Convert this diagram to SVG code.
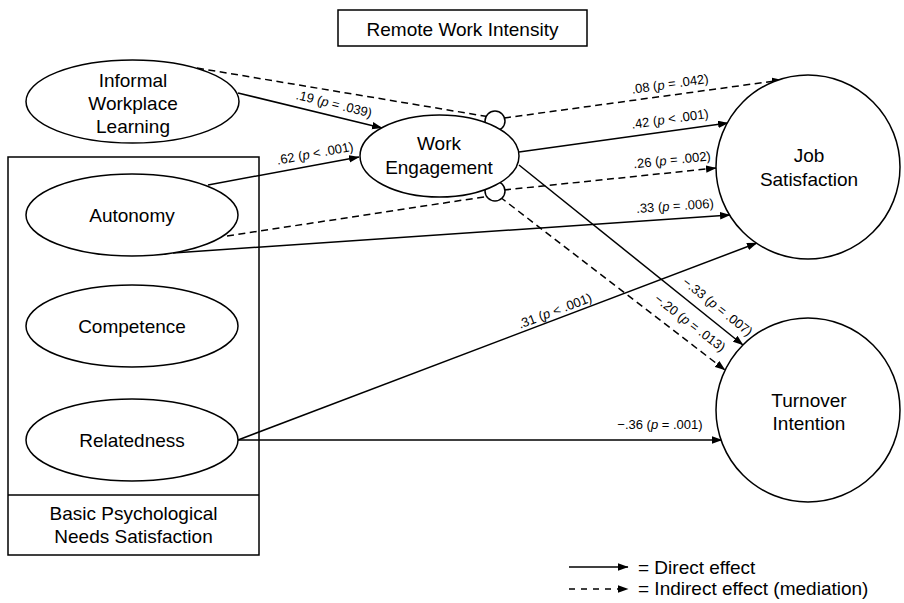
<svg xmlns="http://www.w3.org/2000/svg" width="904" height="603" viewBox="0 0 904 603">
<defs>
<marker id="arr" markerUnits="userSpaceOnUse" markerWidth="11" markerHeight="8" refX="10" refY="3.75" orient="auto">
<path d="M0,0 L10.5,3.75 L0,7.5 z" fill="#000"/>
</marker>
<style>
.n{font-family:"Liberation Sans",Arial,sans-serif;font-size:19px;fill:#000;text-anchor:middle}
.l{font-family:"Liberation Sans",Arial,sans-serif;font-size:13px;fill:#000;text-anchor:middle}
.lg{font-family:"Liberation Sans",Arial,sans-serif;font-size:19px;fill:#000}
.shape{fill:#fff;stroke:#000;stroke-width:1.5}
.frame{fill:none;stroke:#000;stroke-width:1.5}
.d{fill:none;stroke:#000;stroke-width:1.5;marker-end:url(#arr)}
.i{fill:none;stroke:#000;stroke-width:1.5;stroke-dasharray:7 4.5}
.ia{fill:none;stroke:#000;stroke-width:1.5;stroke-dasharray:7 4.5;marker-end:url(#arr)}
</style>
</defs>
<rect width="904" height="603" fill="#fff"/>

<g id="remote-work-intensity">
<rect class="frame" x="338" y="10" width="249" height="36"/>
<text class="n" x="462.5" y="36">Remote Work Intensity</text>
</g>

<g id="bpns-box">
<rect class="frame" x="8" y="157" width="251" height="398"/>
<line x1="8" y1="495" x2="259" y2="495" stroke="#000" stroke-width="1.5"/>
<text class="n" x="133.5" y="520">Basic Psychological</text>
<text class="n" x="133.5" y="543">Needs Satisfaction</text>
</g>

<g id="connectors">
<line class="i" x1="197" y1="68" x2="490" y2="117"/>
<line class="ia" x1="504" y1="118" x2="782" y2="80"/>
<line class="i" x1="227" y1="236" x2="490" y2="196"/>
<line class="ia" x1="504" y1="190" x2="716" y2="168"/>
<line class="ia" x1="500" y1="197" x2="725" y2="370"/>
<line class="d" x1="238" y1="93" x2="382" y2="128"/>
<line class="d" x1="208" y1="185" x2="359" y2="157"/>
<line class="d" x1="519" y1="152" x2="728" y2="123"/>
<line class="d" x1="173" y1="253" x2="730" y2="215"/>
<line class="d" x1="519" y1="165" x2="743" y2="345"/>
<line class="d" x1="238" y1="440" x2="757" y2="243"/>
<line class="d" x1="238" y1="440" x2="722" y2="440"/>
<circle class="shape" cx="495" cy="121" r="10"/>
<circle class="shape" cx="495" cy="191" r="10"/>
<text class="l" transform="translate(333,108.2) rotate(13.7)">.19 (<tspan font-style="italic">p</tspan> = .039)</text>
<text class="l" transform="translate(315.8,157.7) rotate(-10.5)">.62 (<tspan font-style="italic">p</tspan> &lt; .001)</text>
<text class="l" transform="translate(670.6,88.3) rotate(-8.2)">.08 (<tspan font-style="italic">p</tspan> = .042)</text>
<text class="l" transform="translate(670.6,123.3) rotate(-7.9)">.42 (<tspan font-style="italic">p</tspan> &lt; .001)</text>
<text class="l" transform="translate(672.5,164.3) rotate(-6)">.26 (<tspan font-style="italic">p</tspan> = .002)</text>
<text class="l" transform="translate(675.3,210.3) rotate(-3.9)">.33 (<tspan font-style="italic">p</tspan> = .006)</text>
<text class="l" transform="translate(556.5,315) rotate(-20.8)">.31 (<tspan font-style="italic">p</tspan> &lt; .001)</text>
<text class="l" transform="translate(714.8,310.1) rotate(38.7)">−.33 (<tspan font-style="italic">p</tspan> = .007)</text>
<text class="l" transform="translate(687.4,326.4) rotate(37.4)">−.20 (<tspan font-style="italic">p</tspan> = .013)</text>
<text class="l" x="660" y="428.5">−.36 (<tspan font-style="italic">p</tspan> = .001)</text>
</g>

<g id="informal-workplace-learning">
<ellipse class="shape" cx="132.5" cy="101.5" rx="106.5" ry="41.5"/>
<text class="n" x="133" y="87">Informal</text>
<text class="n" x="133" y="110">Workplace</text>
<text class="n" x="133" y="133">Learning</text>
</g>

<g id="autonomy">
<ellipse class="shape" cx="132" cy="215" rx="106" ry="41"/>
<text class="n" x="132" y="222">Autonomy</text>
</g>

<g id="competence">
<ellipse class="shape" cx="132" cy="326" rx="106" ry="41"/>
<text class="n" x="132" y="333">Competence</text>
</g>

<g id="relatedness">
<ellipse class="shape" cx="132" cy="440" rx="106" ry="41"/>
<text class="n" x="132" y="447">Relatedness</text>
</g>

<g id="work-engagement">
<ellipse class="shape" cx="439.5" cy="156" rx="79.5" ry="41"/>
<text class="n" x="439" y="150">Work</text>
<text class="n" x="439" y="174">Engagement</text>
</g>

<g id="job-satisfaction">
<circle class="shape" cx="808" cy="167" r="92"/>
<text class="n" x="809" y="162">Job</text>
<text class="n" x="809" y="186">Satisfaction</text>
</g>

<g id="turnover-intention">
<circle class="shape" cx="808" cy="410" r="92"/>
<text class="n" x="809" y="407">Turnover</text>
<text class="n" x="809" y="430">Intention</text>
</g>

<g id="legend">
<line class="d" x1="569" y1="567" x2="628" y2="567"/>
<line x1="569" y1="589" x2="628" y2="589" fill="none" stroke="#000" stroke-width="1.5" stroke-dasharray="6 6" marker-end="url(#arr)"/>
<text class="lg" x="638" y="573.5">= Direct effect</text>
<text class="lg" x="638" y="595">= Indirect effect (mediation)</text>
</g>
</svg>
